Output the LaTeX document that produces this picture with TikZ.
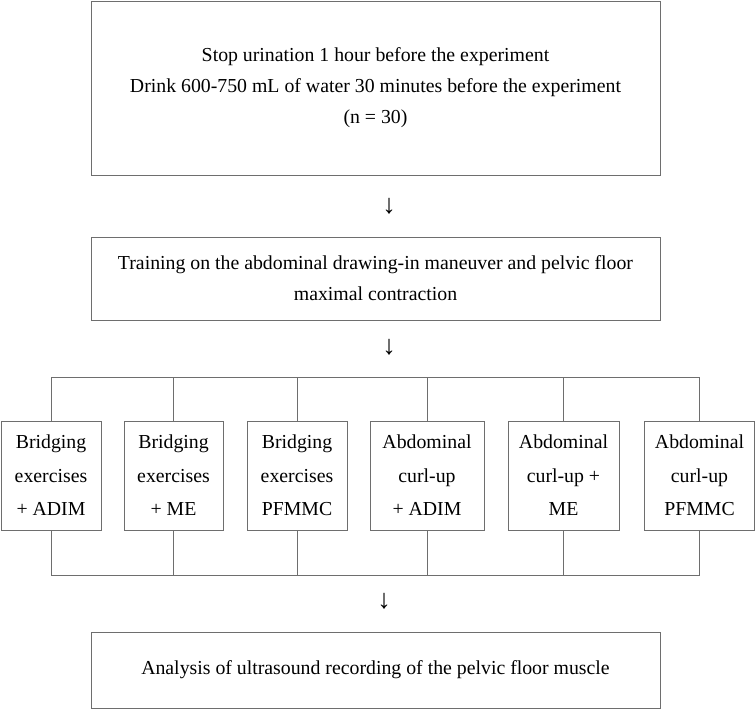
\documentclass[tikz,border=0pt]{standalone}
\usepackage{fontspec}
\setmainfont{Liberation Serif}
\usetikzlibrary{positioning, arrows.meta}

\begin{document}
\begin{tikzpicture}[x=1pt, y=-1pt, every node/.style={font=\fontsize{19.8}{31}\selectfont}]

    % Colors
    \definecolor{framegray}{RGB}{110,110,110}

    \tikzset{
      stepbox/.style={draw=framegray, line width=0.6pt, inner sep=0pt, align=center},
      armbox/.style={stepbox, minimum height=109pt, font=\fontsize{19.8}{33.5}\selectfont},
      downarrow/.style={inner sep=0pt, font=\fontsize{27}{27}\selectfont},
      link/.style={draw=framegray, line width=0.6pt}
    }

    \useasboundingbox (0,0) rectangle (756,709);

    % ======================
    % Main steps
    % ======================
    \node[stepbox, minimum width=569pt, minimum height=174pt] (prep) at (375.5,88)
      {Stop urination 1 hour before the experiment\\
       Drink 600-750 mL of water 30 minutes before the experiment\\
       (n = 30)};
    \node[downarrow] (arrone) at (389,206) {↓};

    \node[stepbox, minimum width=569pt, minimum height=83pt] (train) at (375.5,278.5)
      {Training on the abdominal drawing-in maneuver and pelvic floor\\
       maximal contraction};
    \node[downarrow] (arrtwo) at (389,347) {↓};

    % ======================
    % Six exercise conditions
    % ======================
    \node[armbox, minimum width=100pt] (bradim) at (51,475.5) {Bridging\\exercises\\+ ADIM};
    \node[armbox, minimum width=99pt]  (brme)   at (173.5,475.5) {Bridging\\exercises\\+ ME};
    \node[armbox, minimum width=100pt] (brpf)   at (297,475.5) {Bridging\\exercises\\PFMMC};
    \node[armbox, minimum width=114pt] (cuadim) at (427,475.5) {Abdominal\\curl-up\\+ ADIM};
    \node[armbox, minimum width=111pt] (cume)   at (563.5,475.5) {Abdominal\\curl-up +\\ME};
    \node[armbox, minimum width=110pt] (cupf)   at (699.5,475.5) {Abdominal\\curl-up\\PFMMC};

    % split and merge bars
    \coordinate (splitbar) at (0,377);
    \coordinate (mergebar) at (0,575);

    \draw[link] (bradim.north) -- (bradim.north |- splitbar) -- (cupf.north |- splitbar) -- (cupf.north);
    \draw[link] (brme.north) -- (brme.north |- splitbar);
    \draw[link] (brpf.north) -- (brpf.north |- splitbar);
    \draw[link] (cuadim.north) -- (cuadim.north |- splitbar);
    \draw[link] (cume.north) -- (cume.north |- splitbar);

    \draw[link] (bradim.south) -- (bradim.south |- mergebar) -- (cupf.south |- mergebar) -- (cupf.south);
    \draw[link] (brme.south) -- (brme.south |- mergebar);
    \draw[link] (brpf.south) -- (brpf.south |- mergebar);
    \draw[link] (cuadim.south) -- (cuadim.south |- mergebar);
    \draw[link] (cume.south) -- (cume.south |- mergebar);

    % ======================
    % Final step
    % ======================
    \node[downarrow] (arrthree) at (384,601) {↓};
    \node[stepbox, minimum width=569pt, minimum height=76pt] (analysis) at (375.5,670)
      {Analysis of ultrasound recording of the pelvic floor muscle};

  \end{tikzpicture}
\end{document}
